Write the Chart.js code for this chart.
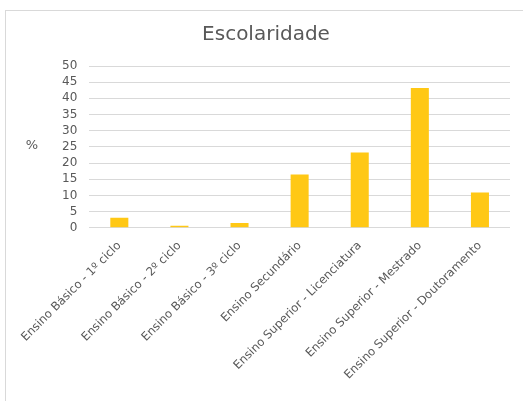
<!DOCTYPE html>
<html>
<head>
<meta charset="utf-8">
<script src="https://cdn.jsdelivr.net/npm/chart.js@4"></script>
<style>
  body { margin: 0; background: #fff; }
  #wrap { position: absolute; left: 0; top: 0; width: 523px; height: 401px; }
  #frame { position: absolute; left: 5px; top: 10px; width: 530px; height: 400px; border: 1px solid #d9d9d9; box-sizing: border-box; }
</style>
</head>
<body>
<div id="wrap">
  <div id="frame"></div>
  <canvas id="escChart" width="523" height="401"></canvas>
</div>
<script>
const categories = ['Ensino Básico - 1º ciclo', 'Ensino Básico - 2º ciclo', 'Ensino Básico - 3º ciclo',
  'Ensino Secundário', 'Ensino Superior - Licenciatura', 'Ensino Superior - Mestrado',
  'Ensino Superior - Doutoramento'];
const percentages = [3.1, 0.6, 1.5, 16.5, 23.3, 43.2, 10.9];
const yTicks = [0, 5, 10, 15, 20, 25, 30, 35, 40, 45, 50];

// title centred on the frame and "%" written horizontally left of the y axis
const extraText = {
  id: 'extraText',
  afterDraw(chart) {
    const ctx = chart.ctx;
    ctx.save();
    ctx.fillStyle = '#595959';
    ctx.textAlign = 'center';
    ctx.textBaseline = 'middle';
    ctx.font = '20px "DejaVu Sans"';
    ctx.fillText('Escolaridade', 266, 35);
    ctx.font = '13px "DejaVu Sans"';
    ctx.fillText('%', 32, 146);
    ctx.restore();
  }
};

var ctx = document.getElementById('escChart').getContext('2d');
var escChart = new Chart(ctx, {
  type: 'bar',
  data: {
    labels: categories,
    datasets: [{
      label: '%',
      data: percentages,
      backgroundColor: '#ffc815',
      barPercentage: 0.6,
      categoryPercentage: 0.5
    }]
  },
  options: {
    responsive: false,
    animation: false,
    layout: { padding: { left: 50, right: 13, top: 66, bottom: 16 } },
    plugins: {
      legend: { display: false },
      tooltip: { enabled: false },
      title: { display: false }
    },
    scales: {
      x: {
        grid: { display: false },
        border: { display: false },
        ticks: {
          color: '#595959',
          font: { family: 'DejaVu Sans', size: 11.7 },
          maxRotation: 45,
          minRotation: 45,
          autoSkip: false
        }
      },
      y: {
        min: 0,
        max: 50,
        afterBuildTicks(axis) { axis.ticks = yTicks.map(v => ({ value: v })); },
        grid: { color: '#d9d9d9', lineWidth: 1, drawTicks: false },
        border: { display: false },
        ticks: {
          color: '#595959',
          font: { family: 'DejaVu Sans', size: 12 },
          padding: 12,
          autoSkip: false
        }
      }
    }
  },
  plugins: [extraText]
});
</script>
</body>
</html>
